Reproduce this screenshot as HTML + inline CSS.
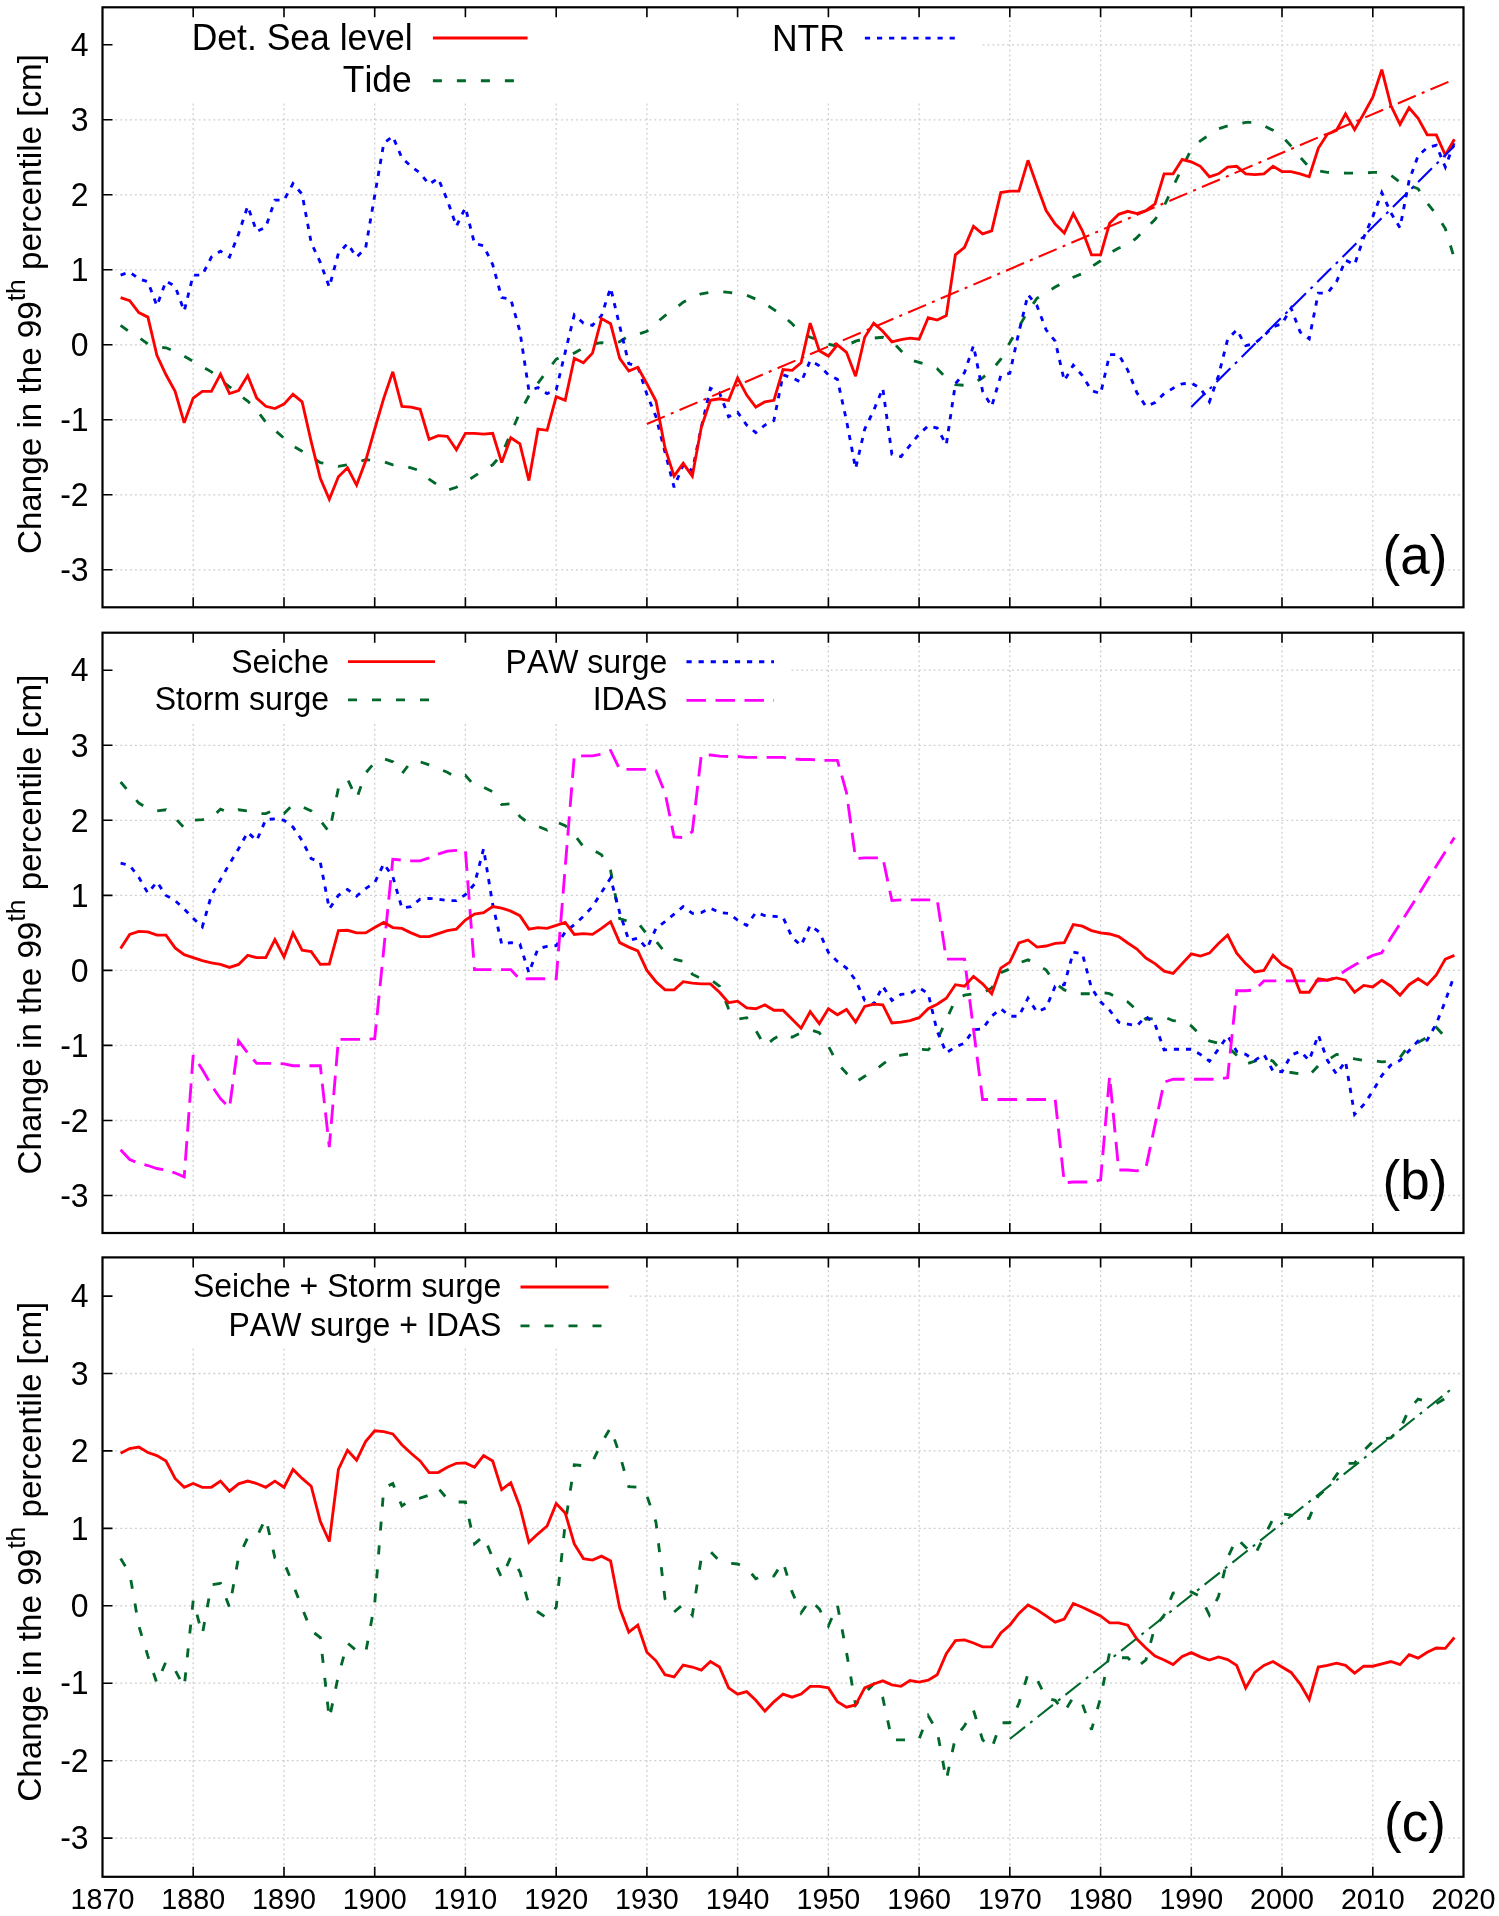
<!DOCTYPE html>
<html><head><meta charset="utf-8"><title>Figure</title>
<style>html,body{margin:0;padding:0;background:#fff;}svg{display:block;will-change:transform;}</style>
</head><body>
<svg width="1499" height="1916" viewBox="0 0 1499 1916">
<rect width="1499" height="1916" fill="#fff"/>
<g font-family='"Liberation Sans", sans-serif' fill="#000" style="font-kerning:none;font-variant-ligatures:none">
<path d="M105.5 569.8H1460.5 M105.5 494.8H1460.5 M105.5 419.8H1460.5 M105.5 344.8H1460.5 M105.5 269.8H1460.5 M105.5 194.8H1460.5 M105.5 119.8H1460.5 M105.5 44.8H1460.5 M193.2 10.3V604.3 M284.0 10.3V604.3 M374.7 10.3V604.3 M465.4 10.3V604.3 M556.2 10.3V604.3 M646.9 10.3V604.3 M737.6 10.3V604.3 M828.4 10.3V604.3 M919.1 10.3V604.3 M1009.8 10.3V604.3 M1100.6 10.3V604.3 M1191.3 10.3V604.3 M1282.0 10.3V604.3 M1372.8 10.3V604.3" stroke="#d0d0d0" stroke-width="1.3" stroke-dasharray="2 2.9" fill="none"/>
<rect x="102.5" y="7.3" width="877.5" height="93.7" fill="#fff"/>
<polyline points="120.6,325.3 129.7,332.1 138.8,337.3 147.9,344.1 156.9,347.1 166.0,347.8 175.1,351.6 184.2,356.1 193.2,361.3 202.3,366.6 211.4,371.8 220.5,380.1 229.5,386.8 238.6,394.3 247.7,401.1 256.7,410.1 265.8,422.1 274.9,430.3 284.0,438.2 293.0,446.1 302.1,451.3 311.2,456.6 320.3,462.6 329.3,464.1 338.4,466.3 347.5,464.8 356.6,462.6 365.6,459.6 374.7,460.7 383.8,461.8 392.8,464.8 401.9,465.6 411.0,467.8 420.1,470.8 429.1,479.1 438.2,485.4 447.3,490.3 456.4,487.3 465.4,482.1 474.5,476.1 483.6,470.1 492.7,464.8 501.7,454.3 510.8,433.3 519.9,412.3 528.9,395.8 538.0,383.1 547.1,371.1 556.2,359.1 565.2,355.3 574.3,353.1 583.4,347.8 592.5,344.1 601.5,342.6 610.6,344.1 619.7,341.8 628.8,335.8 637.8,334.3 646.9,331.3 656.0,323.1 665.0,315.6 674.1,309.6 683.2,302.1 692.3,297.6 701.3,293.8 710.4,292.3 719.5,291.6 728.6,292.3 737.6,293.8 746.7,295.3 755.8,299.1 764.9,303.6 773.9,309.6 783.0,315.6 792.1,323.8 801.1,332.8 810.2,337.3 819.3,340.3 828.4,344.1 837.4,346.3 846.5,345.6 855.6,341.1 864.7,338.8 873.7,338.1 882.8,337.3 891.9,341.1 901.0,350.8 910.0,359.8 919.1,362.4 928.2,365.1 937.2,368.8 946.3,377.8 955.4,384.6 964.5,385.3 973.5,383.1 982.6,377.8 991.7,370.3 1000.8,359.1 1009.8,342.6 1018.9,326.8 1028.0,311.1 1037.0,298.3 1046.1,292.3 1055.2,287.1 1064.3,281.8 1073.3,277.3 1082.4,273.6 1091.5,266.8 1100.6,260.8 1109.6,253.3 1118.7,248.1 1127.8,245.1 1136.9,237.6 1145.9,228.6 1155.0,219.6 1164.1,206.1 1173.1,186.6 1182.2,167.8 1191.3,149.1 1200.4,140.8 1209.4,134.8 1218.5,128.8 1227.6,125.8 1236.7,124.3 1245.7,122.4 1254.8,122.4 1263.9,125.8 1273.0,130.3 1282.0,136.3 1291.1,146.1 1300.2,157.3 1309.2,167.1 1318.3,170.8 1327.4,172.3 1336.5,172.3 1345.5,173.1 1354.6,173.1 1363.7,173.1 1372.8,172.3 1381.8,172.3 1390.9,175.3 1400.0,182.1 1409.1,185.1 1418.1,188.8 1427.2,203.1 1436.3,214.3 1445.3,228.6 1454.4,258.6" fill="none" stroke="#00682a" stroke-width="2.85" stroke-linejoin="miter" stroke-miterlimit="3" stroke-linecap="butt" stroke-dasharray="9 15"/>
<polyline points="120.6,275.1 129.7,272.1 138.8,278.8 147.9,281.8 156.9,305.8 166.0,281.1 175.1,286.3 184.2,311.1 193.2,275.1 202.3,275.1 211.4,257.1 220.5,251.1 229.5,257.1 238.6,233.8 247.7,206.1 256.7,231.6 265.8,227.1 274.9,200.1 284.0,200.1 293.0,183.6 302.1,194.1 311.2,242.8 320.3,262.3 329.3,287.1 338.4,253.3 347.5,243.6 356.6,257.1 365.6,248.1 374.7,195.6 383.8,143.1 392.8,136.3 401.9,158.0 411.0,166.3 420.1,173.1 429.1,184.3 438.2,178.3 447.3,200.1 456.4,226.3 465.4,207.6 474.5,243.6 483.6,245.8 492.7,264.6 501.7,297.6 510.8,299.1 519.9,331.3 528.9,390.6 538.0,387.6 547.1,393.6 556.2,389.8 565.2,352.3 574.3,314.8 583.4,323.1 592.5,325.3 601.5,315.6 610.6,287.8 619.7,326.1 628.8,363.6 637.8,366.6 646.9,394.3 656.0,416.8 665.0,452.1 674.1,487.3 683.2,464.8 692.3,470.8 701.3,427.3 710.4,388.3 719.5,392.8 728.6,416.8 737.6,412.3 746.7,425.1 755.8,432.6 764.9,425.1 773.9,420.6 783.0,374.8 792.1,377.8 801.1,382.3 810.2,360.6 819.3,365.8 828.4,374.8 837.4,379.3 846.5,420.6 855.6,468.6 864.7,429.2 873.7,410.4 882.8,388.3 891.9,454.3 901.0,456.6 910.0,445.3 919.1,434.1 928.2,425.8 937.2,428.1 946.3,444.6 955.4,383.8 964.5,372.6 973.5,345.6 982.6,391.3 991.7,406.3 1000.8,375.6 1009.8,373.3 1018.9,332.1 1028.0,294.6 1037.0,305.8 1046.1,329.8 1055.2,341.1 1064.3,380.8 1073.3,365.1 1082.4,375.6 1091.5,390.6 1100.6,393.6 1109.6,354.6 1118.7,354.6 1127.8,370.3 1136.9,392.8 1145.9,406.3 1155.0,402.6 1164.1,393.6 1173.1,388.3 1182.2,383.8 1191.3,383.1 1200.4,388.3 1209.4,401.8 1218.5,375.6 1227.6,339.6 1236.7,329.8 1245.7,345.6 1254.8,343.3 1263.9,335.8 1273.0,326.8 1282.0,323.8 1291.1,308.1 1300.2,332.1 1309.2,338.8 1318.3,293.1 1327.4,293.1 1336.5,281.8 1345.5,260.1 1354.6,264.6 1363.7,237.6 1372.8,216.6 1381.8,192.6 1390.9,212.8 1400.0,227.8 1409.1,180.6 1418.1,155.8 1427.2,147.6 1436.3,145.3 1445.3,167.1 1454.4,142.3" fill="none" stroke="#0000ff" stroke-width="2.85" stroke-linejoin="miter" stroke-miterlimit="3" stroke-linecap="butt" stroke-dasharray="5.2 6.9"/>
<polyline points="120.6,297.6 129.7,300.6 138.8,312.6 147.9,317.1 156.9,355.3 166.0,374.8 175.1,391.3 184.2,422.8 193.2,398.1 202.3,391.3 211.4,391.3 220.5,374.1 229.5,393.6 238.6,390.6 247.7,375.6 256.7,398.1 265.8,406.3 274.9,408.6 284.0,404.1 293.0,394.3 302.1,401.8 311.2,441.6 320.3,478.3 329.3,499.3 338.4,476.8 347.5,467.8 356.6,485.1 365.6,461.1 374.7,429.2 383.8,398.1 392.8,371.8 401.9,406.3 411.0,407.1 420.1,409.3 429.1,439.3 438.2,435.6 447.3,436.3 456.4,449.8 465.4,433.3 474.5,433.3 483.6,434.1 492.7,433.3 501.7,462.6 510.8,437.8 519.9,443.8 528.9,480.6 538.0,429.2 547.1,430.3 556.2,396.6 565.2,400.3 574.3,358.3 583.4,362.8 592.5,353.1 601.5,318.6 610.6,323.8 619.7,358.3 628.8,371.1 637.8,367.3 646.9,383.8 656.0,401.1 665.0,447.9 674.1,476.1 683.2,463.3 692.3,476.1 701.3,427.3 710.4,400.3 719.5,398.8 728.6,400.3 737.6,377.8 746.7,395.1 755.8,407.1 764.9,401.8 773.9,400.3 783.0,369.6 792.1,370.3 801.1,362.8 810.2,323.1 819.3,350.8 828.4,356.1 837.4,344.8 846.5,352.3 855.6,376.3 864.7,337.3 873.7,323.1 882.8,331.3 891.9,341.8 901.0,339.6 910.0,338.1 919.1,339.2 928.2,317.8 937.2,320.1 946.3,315.6 955.4,254.8 964.5,247.3 973.5,226.3 982.6,233.8 991.7,230.8 1000.8,192.6 1009.8,191.1 1018.9,191.1 1028.0,160.3 1037.0,185.8 1046.1,210.6 1055.2,224.1 1064.3,233.1 1073.3,213.6 1082.4,230.8 1091.5,254.8 1100.6,254.8 1109.6,223.3 1118.7,214.3 1127.8,211.3 1136.9,213.6 1145.9,210.6 1155.0,203.8 1164.1,173.8 1173.1,173.8 1182.2,159.5 1191.3,161.8 1200.4,166.3 1209.4,176.8 1218.5,173.8 1227.6,167.1 1236.7,166.3 1245.7,173.8 1254.8,174.6 1263.9,173.8 1273.0,166.3 1282.0,171.6 1291.1,171.6 1300.2,173.8 1309.2,176.8 1318.3,148.3 1327.4,134.1 1336.5,130.3 1345.5,113.8 1354.6,129.6 1363.7,113.8 1372.8,97.3 1381.8,69.6 1390.9,105.6 1400.0,124.3 1409.1,107.8 1418.1,118.3 1427.2,134.8 1436.3,134.8 1445.3,155.1 1454.4,139.3" fill="none" stroke="#ff0000" stroke-width="2.85" stroke-linejoin="miter" stroke-miterlimit="3" stroke-linecap="butt"/>
<polyline points="646.9,424.0 1454.4,79.3" fill="none" stroke="#ff0000" stroke-width="2.1" stroke-linejoin="miter" stroke-miterlimit="3" stroke-linecap="butt" stroke-dasharray="19.5 6.5 3 6.5"/>
<polyline points="1191.3,407.1 1454.4,146.1" fill="none" stroke="#0000ff" stroke-width="2.1" stroke-linejoin="miter" stroke-miterlimit="3" stroke-linecap="butt" stroke-dasharray="19.5 6.5 3 6.5"/>
<path d="M102.5 569.8h10 M102.5 494.8h10 M102.5 419.8h10 M102.5 344.8h10 M102.5 269.8h10 M102.5 194.8h10 M102.5 119.8h10 M102.5 44.8h10 M193.2 607.3v-10 M193.2 7.3v10 M284.0 607.3v-10 M284.0 7.3v10 M374.7 607.3v-10 M374.7 7.3v10 M465.4 607.3v-10 M465.4 7.3v10 M556.2 607.3v-10 M556.2 7.3v10 M646.9 607.3v-10 M646.9 7.3v10 M737.6 607.3v-10 M737.6 7.3v10 M828.4 607.3v-10 M828.4 7.3v10 M919.1 607.3v-10 M919.1 7.3v10 M1009.8 607.3v-10 M1009.8 7.3v10 M1100.6 607.3v-10 M1100.6 7.3v10 M1191.3 607.3v-10 M1191.3 7.3v10 M1282.0 607.3v-10 M1282.0 7.3v10 M1372.8 607.3v-10 M1372.8 7.3v10" stroke="#000" stroke-width="1.6" fill="none"/>
<rect x="102.5" y="7.3" width="1361.0" height="600.0" fill="none" stroke="#000" stroke-width="2.2"/>
<text x="0" y="0" transform="translate(88.6,581.0) scale(1,1.03)" font-size="32" text-anchor="end">-3</text>
<text x="0" y="0" transform="translate(88.6,506.0) scale(1,1.03)" font-size="32" text-anchor="end">-2</text>
<text x="0" y="0" transform="translate(88.6,431.0) scale(1,1.03)" font-size="32" text-anchor="end">-1</text>
<text x="0" y="0" transform="translate(88.6,356.0) scale(1,1.03)" font-size="32" text-anchor="end">0</text>
<text x="0" y="0" transform="translate(88.6,281.0) scale(1,1.03)" font-size="32" text-anchor="end">1</text>
<text x="0" y="0" transform="translate(88.6,206.0) scale(1,1.03)" font-size="32" text-anchor="end">2</text>
<text x="0" y="0" transform="translate(88.6,131.0) scale(1,1.03)" font-size="32" text-anchor="end">3</text>
<text x="0" y="0" transform="translate(88.6,56.0) scale(1,1.03)" font-size="32" text-anchor="end">4</text>
<text x="0" y="0" transform="translate(412.6,50.4) scale(1,1.03)" font-size="35.5" text-anchor="end">Det. Sea level</text>
<text x="0" y="0" transform="translate(411.8,92.2) scale(1,1.03)" font-size="35.5" text-anchor="end">Tide</text>
<text x="0" y="0" transform="translate(844.9,50.6) scale(1,1.03)" font-size="35.5" text-anchor="end">NTR</text>
<polyline points="432.9,38.0 527.6,38.0" fill="none" stroke="#ff0000" stroke-width="2.85" stroke-linejoin="miter" stroke-miterlimit="3" stroke-linecap="butt"/>
<polyline points="432.9,80.7 527.6,80.7" fill="none" stroke="#00682a" stroke-width="2.85" stroke-linejoin="miter" stroke-miterlimit="3" stroke-linecap="butt" stroke-dasharray="9 15"/>
<polyline points="864.9,38.1 960.0,38.1" fill="none" stroke="#0000ff" stroke-width="2.85" stroke-linejoin="miter" stroke-miterlimit="3" stroke-linecap="butt" stroke-dasharray="5.2 6.9"/>
<text x="0" y="0" transform="translate(1447.3,573.5) scale(1,1.03)" font-size="53" text-anchor="end">(a)</text>
<path d="M105.5 1195.5H1460.5 M105.5 1120.5H1460.5 M105.5 1045.4H1460.5 M105.5 970.4H1460.5 M105.5 895.4H1460.5 M105.5 820.3H1460.5 M105.5 745.3H1460.5 M105.5 670.2H1460.5 M193.2 635.7V1230.0 M284.0 635.7V1230.0 M374.7 635.7V1230.0 M465.4 635.7V1230.0 M556.2 635.7V1230.0 M646.9 635.7V1230.0 M737.6 635.7V1230.0 M828.4 635.7V1230.0 M919.1 635.7V1230.0 M1009.8 635.7V1230.0 M1100.6 635.7V1230.0 M1191.3 635.7V1230.0 M1282.0 635.7V1230.0 M1372.8 635.7V1230.0" stroke="#d0d0d0" stroke-width="1.3" stroke-dasharray="2 2.9" fill="none"/>
<rect x="102.5" y="632.7" width="687.5" height="89.3" fill="#fff"/>
<polyline points="120.6,782.0 129.7,792.6 138.8,803.1 147.9,808.3 156.9,810.9 166.0,809.8 175.1,818.1 184.2,827.8 193.2,820.3 202.3,819.6 211.4,818.1 220.5,809.1 229.5,812.8 238.6,809.8 247.7,810.9 256.7,813.6 265.8,813.6 274.9,809.8 284.0,813.6 293.0,804.6 302.1,806.8 311.2,810.9 320.3,820.3 329.3,832.3 338.4,788.1 347.5,779.0 356.6,798.6 365.6,773.0 374.7,762.5 383.8,758.8 392.8,761.8 401.9,773.8 411.0,761.8 420.1,761.8 429.1,764.8 438.2,768.5 447.3,772.3 456.4,777.5 465.4,775.3 474.5,785.8 483.6,787.3 492.7,791.8 501.7,804.6 510.8,803.8 519.9,816.6 528.9,823.3 538.0,826.3 547.1,830.1 556.2,821.8 565.2,825.6 574.3,834.6 583.4,846.6 592.5,849.6 601.5,854.8 610.6,870.6 619.7,918.6 628.8,921.6 637.8,922.4 646.9,934.4 656.0,941.1 665.0,952.4 674.1,959.1 683.2,961.4 692.3,974.2 701.3,978.7 710.4,979.4 719.5,986.2 728.6,1008.7 737.6,1019.2 746.7,1017.7 755.8,1030.4 764.9,1046.2 773.9,1038.7 783.0,1033.4 792.1,1037.2 801.1,1032.7 810.2,1029.7 819.3,1032.7 828.4,1046.2 837.4,1063.4 846.5,1073.2 855.6,1082.2 864.7,1076.2 873.7,1071.0 882.8,1064.2 891.9,1057.4 901.0,1055.2 910.0,1053.7 919.1,1049.2 928.2,1049.9 937.2,1040.2 946.3,1019.9 955.4,999.7 964.5,995.2 973.5,993.7 982.6,992.9 991.7,988.0 1000.8,972.7 1009.8,968.9 1018.9,962.9 1028.0,959.9 1037.0,964.0 1046.1,970.0 1055.2,983.2 1064.3,989.9 1073.3,993.7 1082.4,993.7 1091.5,993.7 1100.6,992.2 1109.6,993.7 1118.7,998.2 1127.8,1001.9 1136.9,1010.2 1145.9,1019.2 1155.0,1018.4 1164.1,1016.9 1173.1,1020.7 1182.2,1021.4 1191.3,1025.9 1200.4,1034.9 1209.4,1040.9 1218.5,1043.2 1227.6,1046.9 1236.7,1055.2 1245.7,1064.2 1254.8,1061.2 1263.9,1057.4 1273.0,1061.2 1282.0,1071.7 1291.1,1072.5 1300.2,1074.0 1309.2,1075.5 1318.3,1065.7 1327.4,1060.4 1336.5,1054.4 1345.5,1055.9 1354.6,1058.9 1363.7,1060.4 1372.8,1060.4 1381.8,1061.9 1390.9,1061.2 1400.0,1057.4 1409.1,1045.4 1418.1,1042.4 1427.2,1037.2 1436.3,1027.4 1445.3,1037.2 1454.4,1033.1" fill="none" stroke="#00682a" stroke-width="2.85" stroke-linejoin="miter" stroke-miterlimit="3" stroke-linecap="butt" stroke-dasharray="9 15"/>
<polyline points="120.6,863.1 129.7,865.3 138.8,877.4 147.9,893.1 156.9,881.9 166.0,895.4 175.1,900.6 184.2,908.9 193.2,918.2 202.3,926.9 211.4,895.4 220.5,879.6 229.5,863.8 238.6,848.8 247.7,832.3 256.7,840.6 265.8,819.6 274.9,818.8 284.0,820.3 293.0,827.1 302.1,840.6 311.2,858.6 320.3,862.3 329.3,908.9 338.4,895.4 347.5,889.4 356.6,896.1 365.6,888.6 374.7,882.6 383.8,863.8 392.8,876.6 401.9,908.1 411.0,906.6 420.1,899.1 429.1,898.4 438.2,899.1 447.3,900.6 456.4,900.6 465.4,894.6 474.5,884.1 483.6,848.8 492.7,904.4 501.7,944.1 510.8,942.6 519.9,944.1 528.9,972.7 538.0,948.6 547.1,946.4 556.2,945.6 565.2,932.1 574.3,924.6 583.4,916.4 592.5,906.6 601.5,892.4 610.6,878.1 619.7,912.6 628.8,940.4 637.8,938.1 646.9,948.6 656.0,928.4 665.0,921.6 674.1,914.1 683.2,906.6 692.3,913.4 701.3,912.6 710.4,908.1 719.5,912.6 728.6,913.4 737.6,920.1 746.7,925.4 755.8,912.6 764.9,915.6 773.9,916.4 783.0,917.1 792.1,937.4 801.1,945.6 810.2,925.4 819.3,932.1 828.4,952.4 837.4,961.4 846.5,968.1 855.6,980.2 864.7,1000.4 873.7,1004.2 882.8,986.2 891.9,1000.4 901.0,994.4 910.0,993.7 919.1,987.7 928.2,993.7 937.2,1031.2 946.3,1052.9 955.4,1046.9 964.5,1043.2 973.5,1029.7 982.6,1028.9 991.7,1016.2 1000.8,1008.7 1009.8,1016.2 1018.9,1016.2 1028.0,998.2 1037.0,1012.0 1046.1,1007.9 1055.2,986.2 1064.3,984.7 1073.3,952.0 1082.4,953.9 1091.5,988.0 1100.6,1001.9 1109.6,1010.2 1118.7,1022.2 1127.8,1024.1 1136.9,1025.9 1145.9,1016.2 1155.0,1024.1 1164.1,1049.9 1173.1,1049.2 1182.2,1049.2 1191.3,1049.2 1200.4,1054.4 1209.4,1061.2 1218.5,1049.2 1227.6,1035.7 1236.7,1051.4 1245.7,1054.4 1254.8,1060.4 1263.9,1054.4 1273.0,1071.0 1282.0,1071.7 1291.1,1055.2 1300.2,1051.4 1309.2,1060.4 1318.3,1034.9 1327.4,1060.4 1336.5,1074.0 1345.5,1061.2 1354.6,1114.5 1363.7,1104.7 1372.8,1091.2 1381.8,1075.5 1390.9,1065.0 1400.0,1060.4 1409.1,1050.7 1418.1,1040.9 1427.2,1040.2 1436.3,1023.7 1445.3,1001.2 1454.4,974.9" fill="none" stroke="#0000ff" stroke-width="2.85" stroke-linejoin="miter" stroke-miterlimit="3" stroke-linecap="butt" stroke-dasharray="5.2 6.9"/>
<polyline points="120.6,1149.7 129.7,1159.5 138.8,1163.3 147.9,1165.5 156.9,1168.5 166.0,1170.0 175.1,1173.0 184.2,1176.8 193.2,1055.2 202.3,1069.5 211.4,1085.2 220.5,1098.7 229.5,1107.7 238.6,1040.9 247.7,1052.9 256.7,1063.4 265.8,1063.4 274.9,1063.4 284.0,1063.8 293.0,1065.7 302.1,1065.7 311.2,1065.7 320.3,1065.7 329.3,1147.1 338.4,1039.4 347.5,1039.4 356.6,1039.4 365.6,1039.4 374.7,1038.7 383.8,949.0 392.8,859.3 401.9,860.1 411.0,860.8 420.1,860.8 429.1,857.8 438.2,854.1 447.3,851.1 456.4,850.3 465.4,850.3 474.5,969.6 483.6,969.6 492.7,969.6 501.7,969.6 510.8,969.6 519.9,979.4 528.9,978.7 538.0,978.7 547.1,978.7 556.2,978.7 565.2,867.2 574.3,755.8 583.4,755.8 592.5,755.8 601.5,754.3 610.6,750.5 619.7,769.3 628.8,769.3 637.8,769.3 646.9,769.3 656.0,770.8 665.0,792.6 674.1,836.8 683.2,837.6 692.3,831.6 701.3,755.0 710.4,755.0 719.5,756.2 728.6,756.5 737.6,756.5 746.7,757.3 755.8,757.3 764.9,757.3 773.9,757.3 783.0,757.3 792.1,758.8 801.1,759.5 810.2,759.5 819.3,760.3 828.4,760.3 837.4,760.3 846.5,792.6 855.6,858.6 864.7,857.8 873.7,857.8 882.8,857.8 891.9,900.6 901.0,899.9 910.0,899.9 919.1,899.9 928.2,899.9 937.2,899.9 946.3,959.1 955.4,959.1 964.5,959.1 973.5,1029.3 982.6,1099.5 991.7,1099.5 1000.8,1099.5 1009.8,1099.5 1018.9,1099.5 1028.0,1099.5 1037.0,1099.5 1046.1,1099.5 1055.2,1099.5 1064.3,1182.8 1073.3,1182.0 1082.4,1182.0 1091.5,1182.0 1100.6,1179.8 1109.6,1076.2 1118.7,1170.0 1127.8,1170.0 1136.9,1170.8 1145.9,1167.8 1155.0,1125.0 1164.1,1082.2 1173.1,1079.2 1182.2,1079.2 1191.3,1079.2 1200.4,1079.2 1209.4,1079.2 1218.5,1079.2 1227.6,1077.7 1236.7,990.7 1245.7,990.7 1254.8,989.9 1263.9,980.9 1273.0,980.9 1282.0,980.9 1291.1,980.9 1300.2,980.9 1309.2,980.9 1318.3,980.9 1327.4,980.2 1336.5,977.2 1345.5,970.4 1354.6,965.1 1363.7,959.9 1372.8,955.4 1381.8,952.8 1390.9,938.1 1400.0,923.9 1409.1,909.6 1418.1,895.4 1427.2,880.4 1436.3,866.1 1445.3,851.8 1454.4,837.6" fill="none" stroke="#ff00ff" stroke-width="2.85" stroke-linejoin="miter" stroke-miterlimit="3" stroke-linecap="butt" stroke-dasharray="19.5 9.5"/>
<polyline points="120.6,948.6 129.7,934.4 138.8,931.4 147.9,931.8 156.9,935.1 166.0,935.1 175.1,947.9 184.2,954.6 193.2,957.6 202.3,960.6 211.4,962.9 220.5,964.4 229.5,967.4 238.6,964.4 247.7,955.4 256.7,957.6 265.8,957.6 274.9,939.6 284.0,956.9 293.0,932.9 302.1,950.1 311.2,951.6 320.3,964.4 329.3,964.0 338.4,930.6 347.5,930.3 356.6,932.9 365.6,932.9 374.7,927.6 383.8,922.4 392.8,927.6 401.9,928.4 411.0,932.9 420.1,936.6 429.1,936.6 438.2,933.6 447.3,930.6 456.4,929.1 465.4,920.1 474.5,914.1 483.6,912.6 492.7,906.6 501.7,908.1 510.8,911.1 519.9,915.6 528.9,929.1 538.0,927.6 547.1,928.4 556.2,925.4 565.2,922.4 574.3,934.4 583.4,933.6 592.5,934.4 601.5,928.4 610.6,921.6 619.7,942.6 628.8,947.1 637.8,950.9 646.9,970.4 656.0,981.7 665.0,989.9 674.1,989.9 683.2,981.7 692.3,983.2 701.3,983.9 710.4,983.9 719.5,992.2 728.6,1002.7 737.6,1001.2 746.7,1007.9 755.8,1008.7 764.9,1004.9 773.9,1010.2 783.0,1010.2 792.1,1019.2 801.1,1028.2 810.2,1011.7 819.3,1023.7 828.4,1008.7 837.4,1014.7 846.5,1009.4 855.6,1022.2 864.7,1006.4 873.7,1004.2 882.8,1004.9 891.9,1022.9 901.0,1022.2 910.0,1020.7 919.1,1017.7 928.2,1008.7 937.2,1004.2 946.3,998.2 955.4,984.7 964.5,986.2 973.5,976.4 982.6,983.9 991.7,993.7 1000.8,968.1 1009.8,962.1 1018.9,943.0 1028.0,940.0 1037.0,947.1 1046.1,946.0 1055.2,943.4 1064.3,942.6 1073.3,924.6 1082.4,926.1 1091.5,930.6 1100.6,932.9 1109.6,934.0 1118.7,936.6 1127.8,943.0 1136.9,949.0 1145.9,958.0 1155.0,963.6 1164.1,971.2 1173.1,973.4 1182.2,963.6 1191.3,953.9 1200.4,956.1 1209.4,953.1 1218.5,943.4 1227.6,935.1 1236.7,953.1 1245.7,963.6 1254.8,971.9 1263.9,970.4 1273.0,955.4 1282.0,964.4 1291.1,969.3 1300.2,992.2 1309.2,992.2 1318.3,978.7 1327.4,980.2 1336.5,977.9 1345.5,980.2 1354.6,992.2 1363.7,985.4 1372.8,986.9 1381.8,980.2 1390.9,986.2 1400.0,995.2 1409.1,984.7 1418.1,978.7 1427.2,984.7 1436.3,974.9 1445.3,959.1 1454.4,955.4" fill="none" stroke="#ff0000" stroke-width="2.85" stroke-linejoin="miter" stroke-miterlimit="3" stroke-linecap="butt"/>
<path d="M102.5 1195.5h10 M102.5 1120.5h10 M102.5 1045.4h10 M102.5 970.4h10 M102.5 895.4h10 M102.5 820.3h10 M102.5 745.3h10 M102.5 670.2h10 M193.2 1233.0v-10 M193.2 632.7v10 M284.0 1233.0v-10 M284.0 632.7v10 M374.7 1233.0v-10 M374.7 632.7v10 M465.4 1233.0v-10 M465.4 632.7v10 M556.2 1233.0v-10 M556.2 632.7v10 M646.9 1233.0v-10 M646.9 632.7v10 M737.6 1233.0v-10 M737.6 632.7v10 M828.4 1233.0v-10 M828.4 632.7v10 M919.1 1233.0v-10 M919.1 632.7v10 M1009.8 1233.0v-10 M1009.8 632.7v10 M1100.6 1233.0v-10 M1100.6 632.7v10 M1191.3 1233.0v-10 M1191.3 632.7v10 M1282.0 1233.0v-10 M1282.0 632.7v10 M1372.8 1233.0v-10 M1372.8 632.7v10" stroke="#000" stroke-width="1.6" fill="none"/>
<rect x="102.5" y="632.7" width="1361.0" height="600.3" fill="none" stroke="#000" stroke-width="2.2"/>
<text x="0" y="0" transform="translate(88.6,1206.7) scale(1,1.03)" font-size="32" text-anchor="end">-3</text>
<text x="0" y="0" transform="translate(88.6,1131.7) scale(1,1.03)" font-size="32" text-anchor="end">-2</text>
<text x="0" y="0" transform="translate(88.6,1056.6) scale(1,1.03)" font-size="32" text-anchor="end">-1</text>
<text x="0" y="0" transform="translate(88.6,981.6) scale(1,1.03)" font-size="32" text-anchor="end">0</text>
<text x="0" y="0" transform="translate(88.6,906.6) scale(1,1.03)" font-size="32" text-anchor="end">1</text>
<text x="0" y="0" transform="translate(88.6,831.5) scale(1,1.03)" font-size="32" text-anchor="end">2</text>
<text x="0" y="0" transform="translate(88.6,756.5) scale(1,1.03)" font-size="32" text-anchor="end">3</text>
<text x="0" y="0" transform="translate(88.6,681.4) scale(1,1.03)" font-size="32" text-anchor="end">4</text>
<text x="0" y="0" transform="translate(329.0,672.7) scale(1,1.03)" font-size="32" text-anchor="end">Seiche</text>
<text x="0" y="0" transform="translate(329.0,709.6) scale(1,1.03)" font-size="32" text-anchor="end">Storm surge</text>
<text x="0" y="0" transform="translate(667.3,673.1) scale(1,1.03)" font-size="32" text-anchor="end">PAW surge</text>
<text x="0" y="0" transform="translate(667.3,710.3) scale(1,1.03)" font-size="32" text-anchor="end">IDAS</text>
<polyline points="348.0,661.6 435.0,661.6" fill="none" stroke="#ff0000" stroke-width="2.85" stroke-linejoin="miter" stroke-miterlimit="3" stroke-linecap="butt"/>
<polyline points="348.0,699.9 435.0,699.9" fill="none" stroke="#00682a" stroke-width="2.85" stroke-linejoin="miter" stroke-miterlimit="3" stroke-linecap="butt" stroke-dasharray="9 15"/>
<polyline points="686.5,661.7 774.0,661.7" fill="none" stroke="#0000ff" stroke-width="2.85" stroke-linejoin="miter" stroke-miterlimit="3" stroke-linecap="butt" stroke-dasharray="5.2 6.9"/>
<polyline points="686.5,700.4 774.0,700.4" fill="none" stroke="#ff00ff" stroke-width="2.85" stroke-linejoin="miter" stroke-miterlimit="3" stroke-linecap="butt" stroke-dasharray="19.5 9.5"/>
<text x="0" y="0" transform="translate(1447.3,1199.0) scale(1,1.03)" font-size="53" text-anchor="end">(b)</text>
<path d="M105.5 1838.1H1460.5 M105.5 1760.7H1460.5 M105.5 1683.2H1460.5 M105.5 1605.8H1460.5 M105.5 1528.4H1460.5 M105.5 1450.9H1460.5 M105.5 1373.5H1460.5 M105.5 1296.1H1460.5 M193.2 1260.4V1873.8 M284.0 1260.4V1873.8 M374.7 1260.4V1873.8 M465.4 1260.4V1873.8 M556.2 1260.4V1873.8 M646.9 1260.4V1873.8 M737.6 1260.4V1873.8 M828.4 1260.4V1873.8 M919.1 1260.4V1873.8 M1009.8 1260.4V1873.8 M1100.6 1260.4V1873.8 M1191.3 1260.4V1873.8 M1282.0 1260.4V1873.8 M1372.8 1260.4V1873.8" stroke="#d0d0d0" stroke-width="1.3" stroke-dasharray="2 2.9" fill="none"/>
<rect x="102.5" y="1257.4" width="524.5" height="89.6" fill="#fff"/>
<polyline points="120.6,1558.6 129.7,1573.3 138.8,1625.9 147.9,1656.1 156.9,1683.2 166.0,1661.5 175.1,1670.1 184.2,1687.1 193.2,1600.4 202.3,1634.4 211.4,1584.9 220.5,1583.3 229.5,1607.3 238.6,1557.0 247.7,1537.7 256.7,1536.9 265.8,1518.3 274.9,1557.8 284.0,1562.4 293.0,1584.1 302.1,1608.1 311.2,1630.6 320.3,1637.5 329.3,1718.8 338.4,1675.5 347.5,1643.0 356.6,1650.7 365.6,1653.0 374.7,1603.5 383.8,1488.1 392.8,1483.5 401.9,1505.9 411.0,1499.7 420.1,1498.2 429.1,1495.1 438.2,1488.1 447.3,1498.9 456.4,1502.0 465.4,1502.0 474.5,1543.9 483.6,1536.1 492.7,1557.8 501.7,1577.9 510.8,1557.0 519.9,1571.7 528.9,1605.0 538.0,1612.0 547.1,1618.2 556.2,1607.3 565.2,1523.7 574.3,1464.9 583.4,1465.7 592.5,1461.8 601.5,1443.2 610.6,1427.7 619.7,1454.8 628.8,1486.6 637.8,1487.3 646.9,1495.8 656.0,1522.2 665.0,1598.8 674.1,1612.0 683.2,1604.3 692.3,1615.1 701.3,1557.8 710.4,1551.6 719.5,1560.9 728.6,1563.2 737.6,1564.0 746.7,1567.9 755.8,1578.7 764.9,1574.8 773.9,1576.0 783.0,1561.7 792.1,1591.9 801.1,1612.8 810.2,1600.0 819.3,1608.9 828.4,1625.9 837.4,1605.0 846.5,1652.3 855.6,1704.9 864.7,1693.3 873.7,1684.0 882.8,1697.9 891.9,1739.8 901.0,1739.8 910.0,1739.8 919.1,1739.0 928.2,1715.8 937.2,1731.2 946.3,1780.0 955.4,1737.4 964.5,1725.8 973.5,1710.3 982.6,1739.8 991.7,1748.3 1000.8,1722.7 1009.8,1722.7 1018.9,1703.4 1028.0,1673.9 1037.0,1679.4 1046.1,1697.9 1055.2,1700.3 1064.3,1711.9 1073.3,1697.2 1082.4,1704.1 1091.5,1729.7 1100.6,1697.9 1109.6,1652.3 1118.7,1657.7 1127.8,1657.7 1136.9,1667.0 1145.9,1660.0 1155.0,1626.7 1164.1,1615.1 1173.1,1593.0 1182.2,1591.9 1191.3,1591.9 1200.4,1596.5 1209.4,1615.1 1218.5,1596.5 1227.6,1557.8 1236.7,1538.4 1245.7,1547.3 1254.8,1555.1 1263.9,1536.9 1273.0,1519.1 1282.0,1513.7 1291.1,1515.2 1300.2,1519.1 1309.2,1518.3 1318.3,1495.8 1327.4,1488.1 1336.5,1474.9 1345.5,1463.3 1354.6,1463.3 1363.7,1450.6 1372.8,1441.6 1381.8,1439.3 1390.9,1437.8 1400.0,1429.3 1409.1,1409.1 1418.1,1399.1 1427.2,1401.4 1436.3,1403.7 1445.3,1398.3 1454.4,1399.1" fill="none" stroke="#00682a" stroke-width="2.85" stroke-linejoin="miter" stroke-miterlimit="3" stroke-linecap="butt" stroke-dasharray="9 15"/>
<polyline points="120.6,1453.3 129.7,1448.6 138.8,1447.1 147.9,1452.5 156.9,1455.6 166.0,1461.0 175.1,1478.4 184.2,1487.3 193.2,1483.5 202.3,1487.3 211.4,1487.3 220.5,1481.1 229.5,1491.2 238.6,1483.8 247.7,1481.1 256.7,1483.5 265.8,1487.3 274.9,1481.1 284.0,1487.3 293.0,1469.5 302.1,1478.4 311.2,1486.2 320.3,1521.4 329.3,1541.5 338.4,1469.5 347.5,1450.2 356.6,1460.2 365.6,1441.6 374.7,1430.8 383.8,1431.6 392.8,1433.9 401.9,1444.7 411.0,1453.3 420.1,1461.0 429.1,1472.6 438.2,1472.6 447.3,1467.2 456.4,1463.3 465.4,1462.9 474.5,1467.2 483.6,1455.6 492.7,1461.0 501.7,1489.7 510.8,1482.7 519.9,1506.7 528.9,1542.3 538.0,1533.8 547.1,1526.0 556.2,1503.6 565.2,1512.9 574.3,1543.9 583.4,1558.6 592.5,1560.1 601.5,1556.2 610.6,1560.9 619.7,1608.1 628.8,1632.1 637.8,1625.2 646.9,1652.3 656.0,1660.8 665.0,1674.7 674.1,1677.0 683.2,1665.0 692.3,1667.0 701.3,1670.1 710.4,1661.5 719.5,1667.0 728.6,1687.9 737.6,1694.1 746.7,1691.7 755.8,1700.3 764.9,1711.1 773.9,1701.8 783.0,1694.1 792.1,1697.2 801.1,1694.1 810.2,1686.3 819.3,1686.3 828.4,1687.9 837.4,1701.8 846.5,1707.2 855.6,1704.9 864.7,1687.9 873.7,1684.0 882.8,1680.9 891.9,1684.8 901.0,1686.3 910.0,1680.5 919.1,1682.1 928.2,1680.1 937.2,1674.7 946.3,1653.8 955.4,1640.6 964.5,1639.9 973.5,1643.0 982.6,1646.8 991.7,1646.8 1000.8,1632.9 1009.8,1625.2 1018.9,1613.5 1028.0,1605.0 1037.0,1609.7 1046.1,1615.9 1055.2,1622.1 1064.3,1619.0 1073.3,1603.5 1082.4,1607.3 1091.5,1611.6 1100.6,1615.9 1109.6,1622.8 1118.7,1622.8 1127.8,1625.2 1136.9,1639.1 1145.9,1648.0 1155.0,1656.1 1164.1,1660.0 1173.1,1664.6 1182.2,1656.5 1191.3,1652.6 1200.4,1656.9 1209.4,1660.0 1218.5,1656.9 1227.6,1659.6 1236.7,1665.4 1245.7,1687.9 1254.8,1672.4 1263.9,1665.4 1273.0,1661.5 1282.0,1667.0 1291.1,1672.4 1300.2,1684.0 1309.2,1699.5 1318.3,1667.0 1327.4,1665.4 1336.5,1663.1 1345.5,1665.4 1354.6,1673.2 1363.7,1666.2 1372.8,1666.2 1381.8,1663.9 1390.9,1661.5 1400.0,1664.6 1409.1,1654.6 1418.1,1658.1 1427.2,1652.3 1436.3,1648.0 1445.3,1648.4 1454.4,1637.5" fill="none" stroke="#ff0000" stroke-width="2.85" stroke-linejoin="miter" stroke-miterlimit="3" stroke-linecap="butt"/>
<polyline points="1009.8,1739.0 1454.4,1386.7" fill="none" stroke="#00682a" stroke-width="2.1" stroke-linejoin="miter" stroke-miterlimit="3" stroke-linecap="butt" stroke-dasharray="19.5 6.5 3 6.5"/>
<path d="M102.5 1838.1h10 M102.5 1760.7h10 M102.5 1683.2h10 M102.5 1605.8h10 M102.5 1528.4h10 M102.5 1450.9h10 M102.5 1373.5h10 M102.5 1296.1h10 M193.2 1876.8v-10 M193.2 1257.4v10 M284.0 1876.8v-10 M284.0 1257.4v10 M374.7 1876.8v-10 M374.7 1257.4v10 M465.4 1876.8v-10 M465.4 1257.4v10 M556.2 1876.8v-10 M556.2 1257.4v10 M646.9 1876.8v-10 M646.9 1257.4v10 M737.6 1876.8v-10 M737.6 1257.4v10 M828.4 1876.8v-10 M828.4 1257.4v10 M919.1 1876.8v-10 M919.1 1257.4v10 M1009.8 1876.8v-10 M1009.8 1257.4v10 M1100.6 1876.8v-10 M1100.6 1257.4v10 M1191.3 1876.8v-10 M1191.3 1257.4v10 M1282.0 1876.8v-10 M1282.0 1257.4v10 M1372.8 1876.8v-10 M1372.8 1257.4v10" stroke="#000" stroke-width="1.6" fill="none"/>
<rect x="102.5" y="1257.4" width="1361.0" height="619.4" fill="none" stroke="#000" stroke-width="2.2"/>
<text x="0" y="0" transform="translate(88.6,1849.3) scale(1,1.03)" font-size="32" text-anchor="end">-3</text>
<text x="0" y="0" transform="translate(88.6,1771.9) scale(1,1.03)" font-size="32" text-anchor="end">-2</text>
<text x="0" y="0" transform="translate(88.6,1694.4) scale(1,1.03)" font-size="32" text-anchor="end">-1</text>
<text x="0" y="0" transform="translate(88.6,1617.0) scale(1,1.03)" font-size="32" text-anchor="end">0</text>
<text x="0" y="0" transform="translate(88.6,1539.6) scale(1,1.03)" font-size="32" text-anchor="end">1</text>
<text x="0" y="0" transform="translate(88.6,1462.1) scale(1,1.03)" font-size="32" text-anchor="end">2</text>
<text x="0" y="0" transform="translate(88.6,1384.7) scale(1,1.03)" font-size="32" text-anchor="end">3</text>
<text x="0" y="0" transform="translate(88.6,1307.3) scale(1,1.03)" font-size="32" text-anchor="end">4</text>
<text x="0" y="0" transform="translate(501.4,1297.4) scale(1,1.03)" font-size="32" text-anchor="end">Seiche + Storm surge</text>
<text x="0" y="0" transform="translate(501.4,1335.9) scale(1,1.03)" font-size="32" text-anchor="end">PAW surge + IDAS</text>
<polyline points="520.5,1287.0 608.5,1287.0" fill="none" stroke="#ff0000" stroke-width="2.85" stroke-linejoin="miter" stroke-miterlimit="3" stroke-linecap="butt"/>
<polyline points="520.5,1325.8 608.5,1325.8" fill="none" stroke="#00682a" stroke-width="2.85" stroke-linejoin="miter" stroke-miterlimit="3" stroke-linecap="butt" stroke-dasharray="9 15"/>
<text x="0" y="0" transform="translate(1445.8,1841.0) scale(1,1.03)" font-size="53" text-anchor="end">(c)</text>
<text x="0" y="0" transform="translate(102.5,1908.7) scale(1,1.03)" font-size="28.7" text-anchor="middle">1870</text>
<text x="0" y="0" transform="translate(193.2,1908.7) scale(1,1.03)" font-size="28.7" text-anchor="middle">1880</text>
<text x="0" y="0" transform="translate(284.0,1908.7) scale(1,1.03)" font-size="28.7" text-anchor="middle">1890</text>
<text x="0" y="0" transform="translate(374.7,1908.7) scale(1,1.03)" font-size="28.7" text-anchor="middle">1900</text>
<text x="0" y="0" transform="translate(465.4,1908.7) scale(1,1.03)" font-size="28.7" text-anchor="middle">1910</text>
<text x="0" y="0" transform="translate(556.2,1908.7) scale(1,1.03)" font-size="28.7" text-anchor="middle">1920</text>
<text x="0" y="0" transform="translate(646.9,1908.7) scale(1,1.03)" font-size="28.7" text-anchor="middle">1930</text>
<text x="0" y="0" transform="translate(737.6,1908.7) scale(1,1.03)" font-size="28.7" text-anchor="middle">1940</text>
<text x="0" y="0" transform="translate(828.4,1908.7) scale(1,1.03)" font-size="28.7" text-anchor="middle">1950</text>
<text x="0" y="0" transform="translate(919.1,1908.7) scale(1,1.03)" font-size="28.7" text-anchor="middle">1960</text>
<text x="0" y="0" transform="translate(1009.8,1908.7) scale(1,1.03)" font-size="28.7" text-anchor="middle">1970</text>
<text x="0" y="0" transform="translate(1100.6,1908.7) scale(1,1.03)" font-size="28.7" text-anchor="middle">1980</text>
<text x="0" y="0" transform="translate(1191.3,1908.7) scale(1,1.03)" font-size="28.7" text-anchor="middle">1990</text>
<text x="0" y="0" transform="translate(1282.0,1908.7) scale(1,1.03)" font-size="28.7" text-anchor="middle">2000</text>
<text x="0" y="0" transform="translate(1372.8,1908.7) scale(1,1.03)" font-size="28.7" text-anchor="middle">2010</text>
<text x="0" y="0" transform="translate(1463.5,1908.7) scale(1,1.03)" font-size="28.7" text-anchor="middle">2020</text>
<text x="0" y="0" transform="translate(40.8,304.1) rotate(-90)" font-size="33.2" text-anchor="middle">Change in the 99<tspan font-size="26.5" dy="-15.5">th</tspan><tspan dy="15.5"> percentile [cm]</tspan></text>
<text x="0" y="0" transform="translate(40.8,924.5) rotate(-90)" font-size="33.2" text-anchor="middle">Change in the 99<tspan font-size="26.5" dy="-15.5">th</tspan><tspan dy="15.5"> percentile [cm]</tspan></text>
<text x="0" y="0" transform="translate(40.8,1551.7) rotate(-90)" font-size="33.2" text-anchor="middle">Change in the 99<tspan font-size="26.5" dy="-15.5">th</tspan><tspan dy="15.5"> percentile [cm]</tspan></text>
</g></svg>
</body></html>
